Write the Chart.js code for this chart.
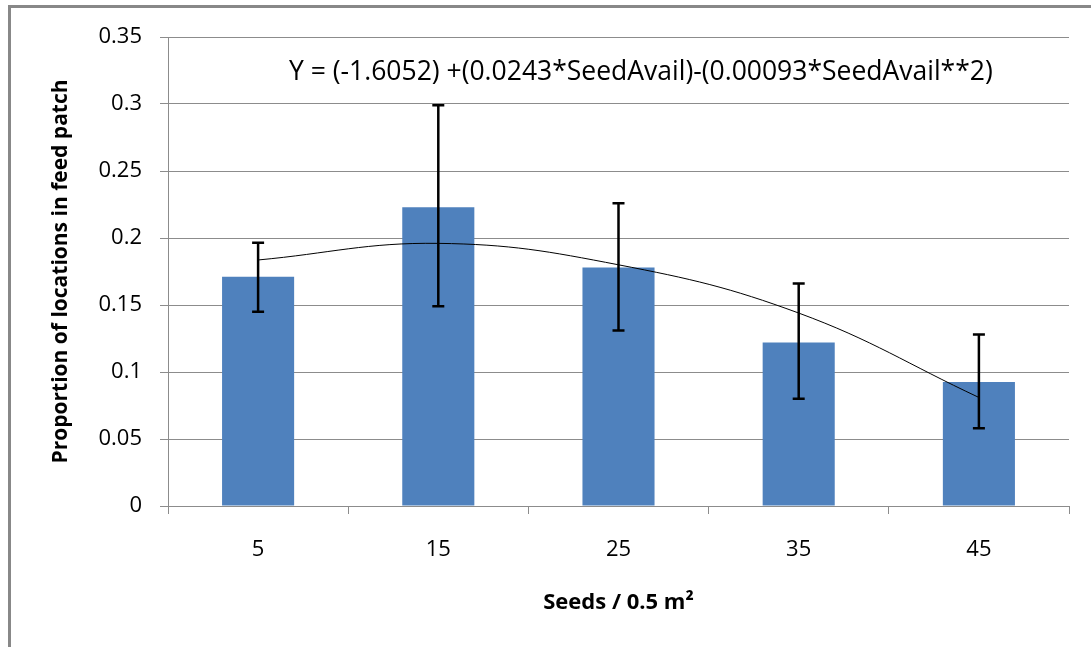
<!DOCTYPE html>
<html lang="en">
<head>
<meta charset="UTF-8">
<title>Seed availability and feed patch use</title>
<style>
  body { margin: 0; background: #fff; overflow: hidden; }
  #wrap { position: relative; width: 1091px; height: 647px; }
  #frame {
    position: absolute;
    left: 8px; top: 5px;
    width: 1100px; height: 660px;
    border: 3px solid #888;
    pointer-events: none;
  }
  canvas { position: absolute; left: 0; top: 0; }
</style>
</head>
<body>
<div id="wrap">
  <canvas id="chart" width="1091" height="647"></canvas>
  <div id="frame"></div>
</div>

<script src="https://cdn.jsdelivr.net/npm/chart.js"></script>
<script>
  // seeds per 0.5 m2 and observed proportions
  var seeds = ['5', '15', '25', '35', '45'];
  var proportion = [0.171, 0.223, 0.178, 0.122, 0.0925];
  var errHigh = [0.1965, 0.299, 0.226, 0.166, 0.128];
  var errLow = [0.145, 0.149, 0.131, 0.080, 0.058];
  // fitted quadratic at each seed level
  var fitted = [0.1836, 0.196, 0.180, 0.144, 0.081];
  var equation = 'Y = (-1.6052) +(0.0243*SeedAvail)-(0.00093*SeedAvail**2)';

  var fontFamily = "'Open Sans', sans-serif";

  // vertical whiskers with caps
  var errorBars = {
    id: 'errorBars',
    afterDatasetsDraw: function(chart) {
      var ctx = chart.ctx;
      var x = chart.scales.x, y = chart.scales.y;
      ctx.save();
      ctx.strokeStyle = '#000';
      ctx.lineWidth = 2.5;
      for (var i = 0; i < seeds.length; i++) {
        var cx = x.getPixelForValue(i);
        var top = y.getPixelForValue(errHigh[i]);
        var bot = y.getPixelForValue(errLow[i]);
        ctx.beginPath();
        ctx.moveTo(cx, top); ctx.lineTo(cx, bot);
        ctx.moveTo(cx - 6, top); ctx.lineTo(cx + 6, top);
        ctx.moveTo(cx - 6, bot); ctx.lineTo(cx + 6, bot);
        ctx.stroke();
      }
      ctx.restore();
    }
  };

  var equationText = {
    id: 'equationText',
    afterDraw: function(chart) {
      var ctx = chart.ctx;
      ctx.save();
      ctx.font = '26.5px ' + fontFamily;
      ctx.fillStyle = '#000';
      ctx.textBaseline = 'middle';
      ctx.fillText(equation, 289, 72);
      ctx.restore();
    }
  };

  new Chart(document.getElementById('chart'), {
    data: {
      labels: seeds,
      datasets: [{
        type: 'line',
        data: fitted,
        borderColor: '#000',
        borderWidth: 1,
        pointRadius: 0,
        tension: 0.4,
        order: 0
      }, {
        type: 'bar',
        data: proportion,
        backgroundColor: '#4F81BD',
        categoryPercentage: 1,
        barPercentage: 0.4,
        order: 1
      }]
    },
    options: {
      responsive: false,
      animation: false,
      layout: { padding: { top: 37, right: 22, left: 0, bottom: 0 } },
      plugins: { legend: { display: false }, tooltip: { enabled: false } },
      scales: {
        x: {
          afterFit: function(s) { s.height = 141; },
          grid: { drawOnChartArea: false, color: '#8c8c8c', tickLength: 8, offset: true },
          border: { color: '#8c8c8c' },
          ticks: { color: '#000', padding: 23, font: { family: fontFamily, size: 22 } },
          title: {
            display: true,
            text: 'Seeds / 0.5 m²',
            color: '#000',
            padding: { top: 0, bottom: 31 },
            font: { family: fontFamily, size: 22, weight: 'bold' }
          }
        },
        y: {
          min: 0,
          max: 0.35,
          afterFit: function(s) { s.width = 168; },
          grid: { color: '#8c8c8c', tickLength: 8 },
          border: { color: '#8c8c8c' },
          ticks: {
            stepSize: 0.05,
            color: '#000',
            padding: 18,
            font: { family: fontFamily, size: 22 },
            callback: function(v) { return String(+v.toFixed(2)); }
          },
          title: {
            display: true,
            text: 'Proportion of locations in feed patch',
            color: '#000',
            padding: { top: 48, bottom: 0 },
            font: { family: fontFamily, size: 21, weight: 'bold' }
          }
        }
      }
    },
    plugins: [errorBars, equationText]
  });
</script>
</body>
</html>
